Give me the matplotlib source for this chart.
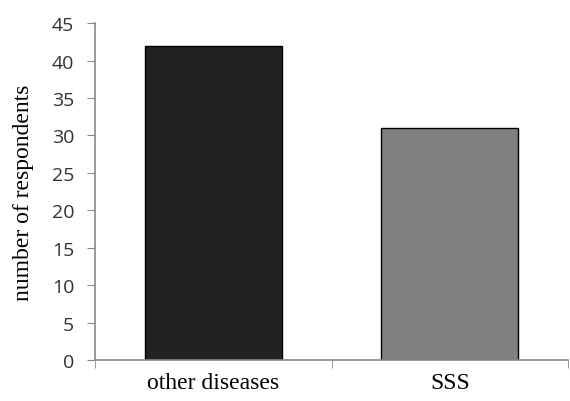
import matplotlib.pyplot as plt
from matplotlib.ticker import FixedLocator

# Data
categories = ['other diseases', 'SSS']
respondents = [42, 31]
bar_colors = ['#222222', '#808080']

fig = plt.figure(figsize=(5.7, 4.02), dpi=100)
ax = fig.add_axes([0.1667, 0.102, 0.83, 0.838])

x = range(len(categories))
ax.bar(x, respondents, width=0.58, color=bar_colors, edgecolor='black', linewidth=1)

ax.set_xlim(-0.5, 1.5)
ax.set_ylim(0, 45)
ax.set_yticks(range(0, 50, 5))
ax.set_xticks(list(x))
ax.set_xticklabels(categories, family='Liberation Serif', fontsize=17)
ax.xaxis.set_minor_locator(FixedLocator([-0.5, 0.5, 1.5]))
ax.tick_params(axis='x', which='major', length=0, pad=9)
ax.tick_params(axis='x', which='minor', length=6, direction='out', color='#888888')
ax.tick_params(axis='y', length=6, direction='out', color='#888888', labelsize=14, pad=9)
for lab in ax.get_yticklabels():
    lab.set_family('Open Sans')
    lab.set_color('#333333')

ax.set_ylabel('number of respondents', family='Liberation Serif', fontsize=17)
ax.yaxis.set_label_coords(-0.128, 0.5)

for side in ['top', 'right']:
    ax.spines[side].set_visible(False)
for side in ['left', 'bottom']:
    ax.spines[side].set_color('#888888')
    ax.spines[side].set_linewidth(1.2)

fig.savefig('out.png', dpi=100)
